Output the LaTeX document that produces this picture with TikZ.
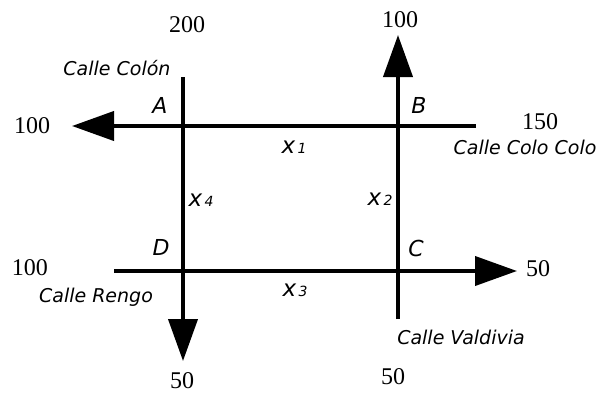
\documentclass[tikz,border=0pt]{standalone}
\usepackage{fontspec}
\setmainfont{Liberation Serif}
\newfontfamily\labfont{DejaVu Sans}
\usetikzlibrary{arrows.meta}
\tikzset{
  road/.style={line width=4pt, black},
  tipped/.style={road, -{Triangle[length=42pt,width=29pt]}},
  num/.style={font=\fontsize{24}{24}\selectfont, inner sep=0pt},
  street/.style={font=\labfont\itshape\fontsize{19}{19}\selectfont, inner sep=0pt},
  corner/.style={font=\labfont\itshape\fontsize{22}{22}\selectfont, inner sep=0pt},
  flow/.style={font=\labfont\itshape\fontsize{23}{23}\selectfont, inner sep=0pt}
}
\newcommand{\flowsub}[1]{{\fontsize{14}{14}\selectfont\,#1}}
\begin{document}
\begin{tikzpicture}[x=1pt,y=-1pt]
\useasboundingbox (0,0) rectangle (600,394);
% road end points
\coordinate (topL) at (72,126);
\coordinate (topR) at (476,126);
\coordinate (botL) at (114,271);
\coordinate (botR) at (517,271);
\coordinate (leftT) at (183,77);
\coordinate (leftB) at (183,361);
\coordinate (rightT) at (398,35);
\coordinate (rightB) at (398,319);
% roads
\draw[tipped] (topR) -- (topL);
\draw[tipped] (botL) -- (botR);
\draw[tipped] (leftT) -- (leftB);
\draw[tipped] (rightB) -- (rightT);
% numbers
\node[num] (n200) at (187,25) {200};
\node[num] (n100a) at (32,126) {100};
\node[num] (n100b) at (400,20) {100};
\node[num] (n150) at (540,122) {150};
\node[num] (n100c) at (30,268) {100};
\node[num] (n50a) at (182,381) {50};
\node[num] (n50b) at (538,269) {50};
\node[num] (n50c) at (393,377) {50};
% street names
\node[street] (colon) at (117,68) {Calle Colón};
\node[street] (colocolo) at (525,147) {Calle Colo Colo};
\node[street] (rengo) at (96,297) {Calle Rengo};
\node[street] (valdivia) at (461,337) {Calle Valdivia};
% corners
\node[corner] (A) at (160,105) {A};
\node[corner] (B) at (419,105) {B};
\node[corner] (C) at (416,248) {C};
\node[corner] (D) at (161,247) {D};
% flows
\node[flow] (x1) at (294,147) {x\flowsub{1}};
\node[flow] (x4) at (201,200) {x\flowsub{4}};
\node[flow] (x2) at (380,199) {x\flowsub{2}};
\node[flow] (x3) at (295,290) {x\flowsub{3}};
\end{tikzpicture}
\end{document}
